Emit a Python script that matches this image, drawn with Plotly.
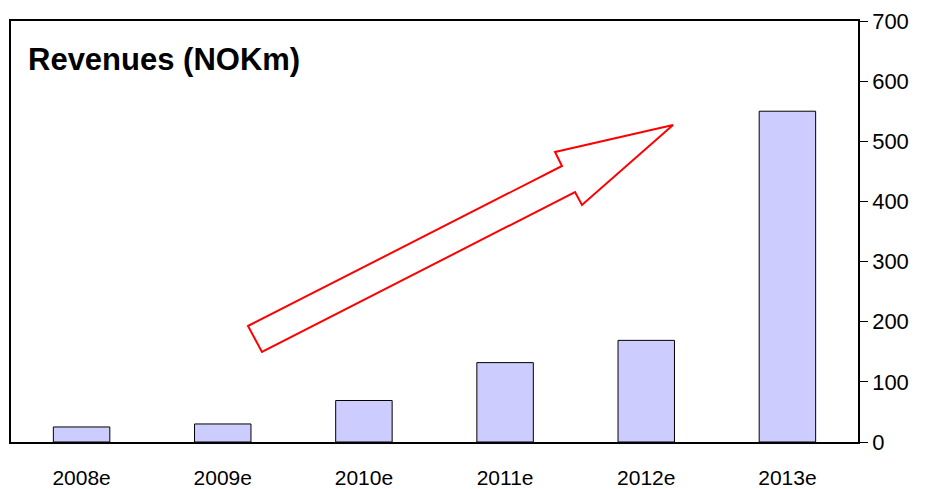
import plotly.graph_objects as go

years = ["2008e", "2009e", "2010e", "2011e", "2012e", "2013e"]
revenues = [25, 30, 69, 132, 169, 550]
y_ticks = [0, 100, 200, 300, 400, 500, 600, 700]

# Plot area in pixels (for converting arrow outline to paper coords)
L, R, T, B = 11, 858, 21, 442
W, H = R - L, B - T

def px(x, y):
    return (x - L) / W, (B - y) / H

arrow_px = [(248, 326), (562, 166), (555, 152), (673, 125),
            (582, 205), (575, 192), (262, 352)]
pts = [px(x, y) for x, y in arrow_px]
path = "M " + " L ".join(f"{a:.4f},{b:.4f}" for a, b in pts) + " Z"

fig = go.Figure(go.Bar(
    x=years, y=revenues,
    marker=dict(color="#CCCCFF", line=dict(color="black", width=1)),
    width=0.4,
))

fig.update_layout(
    width=926, height=489,
    margin=dict(l=L, r=926 - R, t=T, b=489 - B, autoexpand=False),
    paper_bgcolor="white", plot_bgcolor="white",
    showlegend=False,
    font=dict(family="Liberation Sans, Arial, sans-serif", color="black"),
    shapes=[dict(type="path", xref="paper", yref="paper", path=path,
                 line=dict(color="red", width=2), fillcolor="rgba(0,0,0,0)")],
    annotations=[dict(text="<b>Revenues (NOKm)</b>", xref="paper", yref="paper",
                      x=(26 - L) / W, y=(B - 60) / H, xanchor="left", yanchor="middle",
                      showarrow=False, font=dict(size=31, color="black"))],
)
fig.update_xaxes(showline=True, linecolor="black", linewidth=1.5, mirror=True,
                 ticks="", tickfont=dict(size=21), showgrid=False, range=[-0.5, 5.5],
                 automargin=False, ticklabelstandoff=16)
fig.update_yaxes(side="right", range=[0, 700], tickvals=y_ticks, showline=True,
                 linecolor="black", linewidth=1.5, mirror=True, ticks="outside",
                 ticklen=8, tickcolor="black", tickfont=dict(size=22), showgrid=False,
                 zeroline=False, automargin=False)

fig.write_html("out.html", config={"displayModeBar": False},
               post_script="document.body.style.margin='0';document.body.style.overflow='hidden';")
